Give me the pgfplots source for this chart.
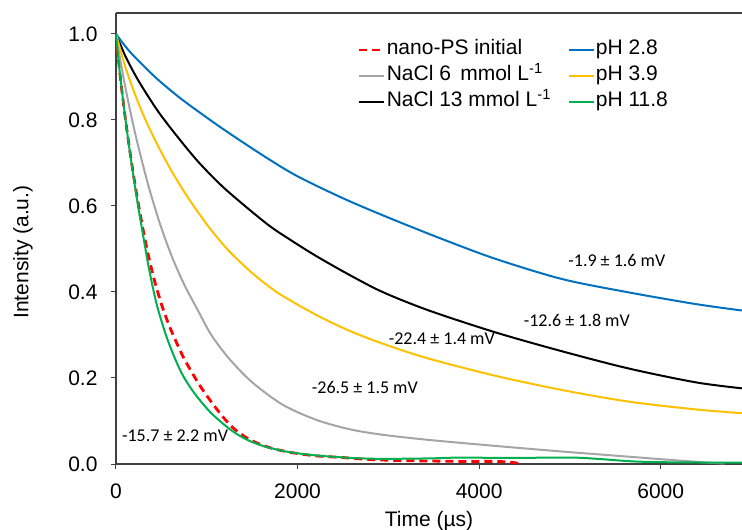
\documentclass[border=0pt]{standalone}
\usepackage{fontspec}
\setmainfont{Liberation Sans}
\newfontfamily\calibri{Carlito}
\usepackage{pgfplots}
\pgfplotsset{compat=1.18}

\definecolor{cblue}{HTML}{0070C0}
\definecolor{cgray}{HTML}{A5A5A5}
\definecolor{cyellow}{HTML}{FFC000}
\definecolor{cgreen}{HTML}{00B050}
\definecolor{cred}{HTML}{FF0000}
\definecolor{axgray}{HTML}{404040}

\begin{document}
\begin{tikzpicture}
\path[use as bounding box] (-116bp,-66bp) rectangle (626bp,464bp);
\begin{axis}[
  scale only axis, width=626bp, height=451bp,
  xmin=0, xmax=6895, ymin=0, ymax=1.0488,
  axis x line*=box, axis y line*=left,
  xtick pos=lower, ytick pos=left,
  xtick={0,2000,4000,6000},
  ytick={0,0.2,0.4,0.6,0.8,1.0},
  scaled x ticks=false,
  xticklabel style={/pgf/number format/1000 sep={}, yshift=-11bp},
  yticklabel style={/pgf/number format/.cd,fixed,fixed zerofill,precision=1,
    /tikz/.cd, xshift=-10bp},
  /pgf/number format/assume math mode=true,
  tick align=outside, major tick length=5bp,
  axis line style={draw=axgray, line width=1.3bp},
  major tick style={draw=axgray, line width=1bp},
  tick label style={font=\fontsize{21bp}{25bp}\selectfont},
  label style={font=\fontsize{21bp}{25bp}\selectfont},
  xlabel={Time (µs)},
  ylabel={Intensity (a.u.)},
  xlabel style={at={(axis description cs:0.5,0)}, anchor=center, yshift=-57bp},
  ylabel style={at={(axis description cs:0,0.47)}, anchor=center, yshift=93bp},
  every axis plot/.append style={smooth, tension=0.5},
  legend columns=3, transpose legend, legend cell align=left,
  legend image code/.code={\draw[#1, sharp plot] (0bp,0bp) -- (25bp,0bp);},
  legend style={draw=none, fill=none, at={(axis description cs:0.3866,0.9424)},
    anchor=north west, inner sep=0pt, outer sep=0pt,
    font=\fontsize{21bp}{25bp}\selectfont,
    nodes={inner sep=1bp, text height=15bp, text depth=5bp},
    row sep=4bp, /tikz/every even column/.append style={column sep=16bp}},
]
% nano-PS initial
\addplot[cred, line width=2.8bp, dash pattern=on 8bp off 5bp] coordinates {
(0,1.000) (25,0.945) (50,0.895) (100,0.808) (150,0.732) (202,0.660)
(250,0.600) (300,0.543) (349,0.492) (422,0.428) (500,0.372) (580,0.325)
(661,0.285) (750,0.245) (844,0.210) (925,0.182) (1020,0.153) (1101,0.130)
(1200,0.104) (1300,0.082) (1431,0.062) (1550,0.049) (1725,0.036) (1950,0.026)
(2202,0.019) (2500,0.015) (2753,0.011) (3100,0.008) (3446,0.007) (3800,0.006)
(4181,0.006) (4350,0.004) (4480,0.000)
};
\addlegendentry{nano-PS initial}
% NaCl 6
\addplot[cgray, line width=2bp] coordinates {
(0,1.000) (60,0.925) (120,0.858) (180,0.798) (240,0.743) (360,0.645)
(490,0.555) (620,0.480) (750,0.418) (900,0.358) (1050,0.300) (1250,0.244)
(1500,0.190) (1835,0.138) (2202,0.103) (2569,0.081) (2936,0.068) (3446,0.056)
(4181,0.042) (4915,0.029) (5649,0.017) (6016,0.011) (6400,0.005) (6700,0.001)
};
\addlegendentry{NaCl 6 \,mmol L\textsuperscript{-1}}
% NaCl 13
\addplot[black, line width=2bp] coordinates {
(0,1.000) (100,0.950) (200,0.909) (300,0.873) (477,0.816) (700,0.755)
(918,0.700) (1200,0.640) (1652,0.560) (1908,0.523) (2202,0.484) (2569,0.440)
(2936,0.400) (3446,0.357) (4181,0.306) (4915,0.262) (5649,0.222) (6383,0.190)
(6893,0.176)
};
\addlegendentry{NaCl 13 mmol L\textsuperscript{-1}}
% pH 2.8
\addplot[cblue, line width=2bp] coordinates {
(0,1.000) (100,0.972) (200,0.948) (440,0.898) (700,0.852) (918,0.818)
(1200,0.776) (1652,0.713) (2000,0.669) (2500,0.618) (3000,0.573) (3594,0.523)
(4181,0.477) (4915,0.430) (5649,0.399) (6383,0.372) (6893,0.357)
};
\addlegendentry{pH 2.8}
% pH 3.9
\addplot[cyellow, line width=2bp] coordinates {
(0,1.000) (100,0.925) (200,0.865) (300,0.812) (450,0.745) (624,0.677)
(800,0.617) (991,0.560) (1083,0.535) (1250,0.494) (1468,0.450) (1652,0.418)
(1835,0.391) (2202,0.347) (2569,0.310) (2936,0.280) (3446,0.245) (4181,0.205)
(4915,0.172) (5649,0.145) (6383,0.127) (6893,0.118)
};
\addlegendentry{pH 3.9}
% pH 11.8
\addplot[cgreen, line width=2bp] coordinates {
(0,1.000) (25,0.945) (50,0.895) (100,0.808) (150,0.730) (202,0.655)
(250,0.592) (300,0.530) (367,0.450) (450,0.370) (550,0.300) (650,0.245)
(734,0.207) (825,0.176) (925,0.148) (1050,0.118) (1200,0.090) (1321,0.071)
(1468,0.054) (1651,0.040) (1900,0.028) (2202,0.020) (2600,0.014) (2936,0.012)
(3446,0.013) (3800,0.015) (4300,0.014) (5000,0.015) (5300,0.012) (5700,0.006)
(6100,0.004) (6893,0.003)
};
\addlegendentry{pH 11.8}

\begin{scope}[every node/.style={font=\calibri\fontsize{18bp}{21bp}\selectfont}]
\node at (axis cs:5516,0.474) {-1.9 ± 1.6 mV};
\node at (axis cs:5076,0.335) {-12.6 ± 1.8 mV};
\node at (axis cs:3589,0.291) {-22.4 ± 1.4 mV};
\node at (axis cs:2741,0.179) {-26.5 ± 1.5 mV};
\node at (axis cs:650,0.065) {-15.7 ± 2.2 mV};
\end{scope}
\end{axis}
\end{tikzpicture}
\end{document}
